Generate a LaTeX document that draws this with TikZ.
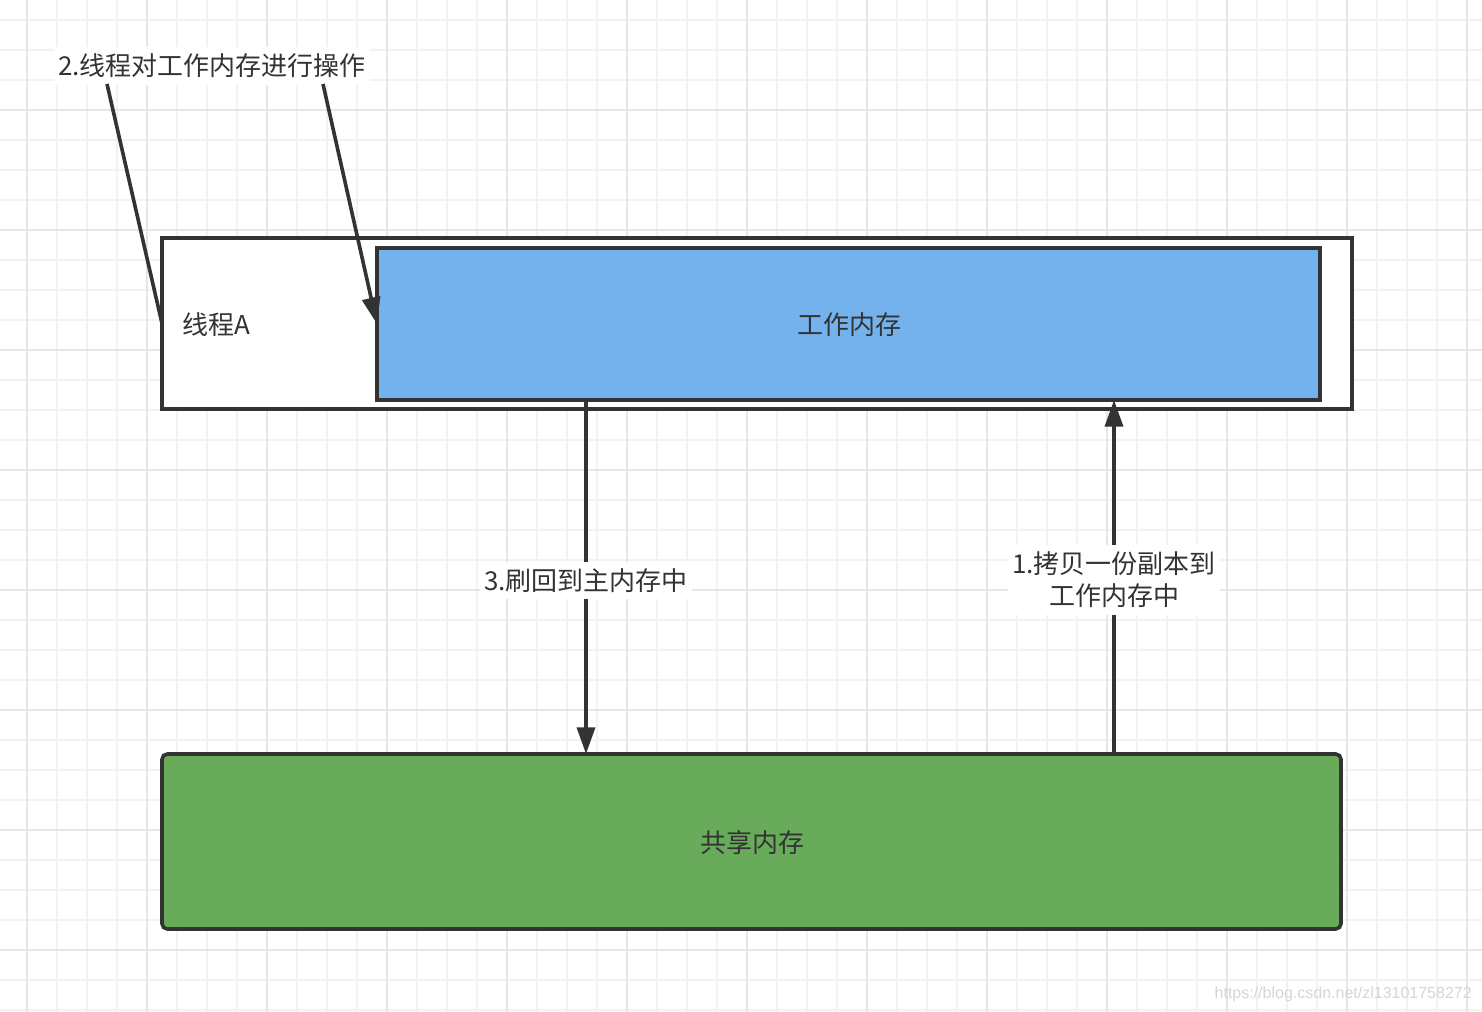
\documentclass[tikz,border=0pt]{standalone}
\usepackage{fontspec}
\setmainfont{Noto Sans CJK SC}
\newfontfamily\wmfont{Liberation Sans}
\usetikzlibrary{arrows.meta}
\definecolor{ink}{HTML}{333333}
\definecolor{workblue}{HTML}{74B2EE}
\definecolor{sharegreen}{HTML}{67AB5B}
\definecolor{gridminor}{HTML}{F2F2F2}
\definecolor{gridmajor}{HTML}{E6E6E6}
\begin{document}
\begin{tikzpicture}[x=0.75pt,y=-0.75pt,
  boxstyle/.style={draw=ink, line width=2.7pt, inner sep=0pt, outer sep=0pt},
  txt/.style={font=\fontsize{19.5}{24}\selectfont, text=ink, inner sep=0pt},
  lbl/.style={txt, fill=white, inner xsep=3pt, inner ysep=5pt, align=center},
  conn/.style={draw=ink, line width=2.7pt},
  arr/.style={conn, -{Triangle[length=20pt,width=13.5pt]}}]
% background and grid
\fill[white] (0,0) rectangle (1482,1012);
\useasboundingbox (0,0) rectangle (1482,1012);
\foreach \i in {0,...,48} {\draw[gridminor, line width=1.4pt] ({27+30*\i},0) -- ({27+30*\i},1012);}
\foreach \i in {0,...,33} {\draw[gridminor, line width=1.4pt] (0,{20+30*\i}) -- (1482,{20+30*\i});}
\foreach \i in {0,...,12} {\draw[gridmajor, line width=1.6pt] ({27+120*\i},0) -- ({27+120*\i},1012);}
\foreach \i in {0,...,7} {\draw[gridmajor, line width=1.6pt] (0,{110+120*\i}) -- (1482,{110+120*\i});}
% boxes
\node[boxstyle, fill=white, minimum width=892.5pt, minimum height=128.25pt] (thread) at (757,323.5) {};
\node[txt, anchor=west] (threadname) at (182,325) {线程A};
\node[boxstyle, fill=workblue, minimum width=707.25pt, minimum height=114pt] (work) at (848.5,324) {};
\node[txt] (worktext) at (849,325) {工作内存};
\node[boxstyle, fill=sharegreen, rounded corners=4pt, minimum width=884.25pt, minimum height=131.25pt] (shared) at (751.5,841.5) {};
\node[txt] (sharedtext) at (752,843) {共享内存};
% labels
\node[lbl] (lbl2) at (212,66) {2.线程对工作内存进行操作};
\node[lbl] (lbl3) at (586,580.5) {3.刷回到主内存中};
\node[lbl] (lbl1) at (1114,580) {1.拷贝一份副本到\\工作内存中};
% connectors
\coordinate (s2a) at (107,84);
\coordinate (s2b) at (323,84);
\draw[conn] (s2a) -- (thread.west);
\draw[arr] (s2b) -- (work.west);
\draw[conn] (work.south -| lbl3) -- (lbl3.north);
\draw[arr] (lbl3.south) -- (shared.north -| lbl3);
\draw[conn] (shared.north -| lbl1) -- (lbl1.south);
\draw[arr] (lbl1.north) -- (work.south -| lbl1);
% watermark
\node[font=\wmfont\fontsize{12}{14}\selectfont, text=black!16, anchor=east, inner sep=0pt] (wm) at (1472,994) {https://blog.csdn.net/zl13101758272};
\end{tikzpicture}
\end{document}
